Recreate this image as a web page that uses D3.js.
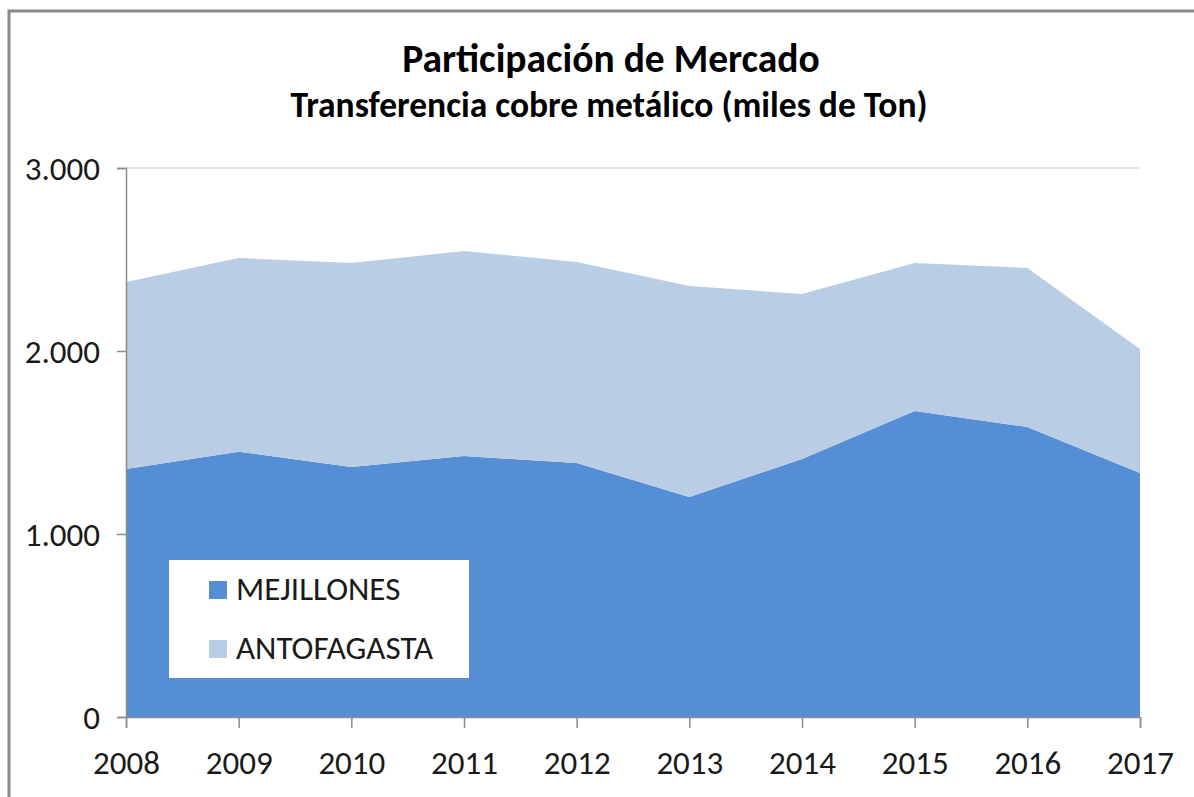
<!DOCTYPE html>
<html>
<head>
<meta charset="utf-8">
<script src="https://cdn.jsdelivr.net/npm/d3@7"></script>
<style>
  body { margin: 0; background: #fff; }
  svg { display: block; font-family: Carlito, Calibri, Lato, sans-serif; }
</style>
</head>
<body>
<svg id="chart" width="1194" height="797"></svg>
<script>
// Data (miles de Ton)
const years = [2008, 2009, 2010, 2011, 2012, 2013, 2014, 2015, 2016, 2017];
const mejillones = [1355, 1450, 1366, 1426, 1388, 1202, 1410, 1672, 1585, 1333];
const antofagasta = [1022, 1058, 1115, 1120, 1098, 1153, 901, 809, 869, 678];
const seriesNames = ["MEJILLONES", "ANTOFAGASTA"];
const yTicks = [0, 1000, 2000, 3000];

const colors = { MEJILLONES: "#558ed5", ANTOFAGASTA: "#b9cde5" };

const table = years.map((y, i) => ({ year: y, MEJILLONES: mejillones[i], ANTOFAGASTA: antofagasta[i] }));

const svg = d3.select("#chart");
const plot = { left: 126, right: 1140, top: 168, bottom: 717 };
const labelSize = 33;

// outer chart border
svg.append("rect")
    .attr("x", 9).attr("y", 11)
    .attr("width", 1300).attr("height", 900)
    .attr("fill", "#fff")
    .attr("stroke", "#898989")
    .attr("stroke-width", 3);

// titles
svg.append("text")
    .attr("x", 611).attr("y", 72)
    .attr("text-anchor", "middle")
    .attr("font-size", 39.5).attr("font-weight", "bold")
    .attr("fill", "#000")
    .text("Participación de Mercado");

svg.append("text")
    .attr("x", 609).attr("y", 117)
    .attr("text-anchor", "middle")
    .attr("font-size", 35.5).attr("font-weight", "bold")
    .attr("fill", "#000")
    .text("Transferencia cobre metálico (miles de Ton)");

// SCALES
const x = d3.scalePoint().domain(years).range([plot.left, plot.right]);
const y = d3.scaleLinear().domain([0, 3000]).range([plot.bottom, plot.top]);

// gridlines
svg.append("g")
    .selectAll("line")
    .data(yTicks.filter(d => d > 0))
    .join("line")
    .attr("x1", plot.left).attr("x2", plot.right)
    .attr("y1", d => y(d)).attr("y2", d => y(d))
    .attr("stroke", "#d9d9d9")
    .attr("stroke-width", 1.5);

// STACK + AREA
const stack = d3.stack().keys(seriesNames);
const layers = stack(table);

const area = d3.area()
    .x(d => x(d.data.year))
    .y0(d => y(d[0]))
    .y1(d => y(d[1]));

svg.append("g")
    .selectAll("path")
    .data(layers)
    .join("path")
    .attr("fill", d => colors[d.key])
    .attr("d", area);

// AXES
const yAxis = svg.append("g")
    .attr("transform", `translate(${plot.left},0)`)
    .call(d3.axisLeft(y).tickValues(yTicks).tickSize(9).tickPadding(17)
        .tickFormat(d => d3.format(",")(d).replace(/,/g, ".")));

const xAxis = svg.append("g")
    .attr("transform", `translate(0,${plot.bottom})`)
    .call(d3.axisBottom(x).tickSize(11).tickPadding(23).tickFormat(d => d));

[yAxis, xAxis].forEach(g => {
    g.select(".domain").attr("stroke", "#8c8c8c").attr("stroke-width", 1.5);
    g.selectAll(".tick line").attr("stroke", "#8c8c8c").attr("stroke-width", 1.5);
    g.selectAll("text").attr("font-size", labelSize).attr("fill", "#1a1a1a")
        .attr("font-family", "Carlito, Calibri, Lato, sans-serif");
});
yAxis.selectAll("text").attr("dy", "0.36em");

// LEGEND
const legend = svg.append("g").attr("transform", "translate(169,560)");
legend.append("rect")
    .attr("width", 300).attr("height", 118)
    .attr("fill", "#fff");

legend.selectAll("g.item")
    .data(seriesNames)
    .join("g")
    .attr("class", "item")
    .attr("transform", (d, i) => `translate(40,${21 + i * 59})`)
    .each(function(d) {
        const g = d3.select(this);
        g.append("rect").attr("width", 18).attr("height", 18).attr("fill", colors[d]);
        g.append("text").attr("x", 27).attr("y", 19)
            .attr("font-size", labelSize).attr("fill", "#1a1a1a").text(d);
    });
</script>
</body>
</html>
